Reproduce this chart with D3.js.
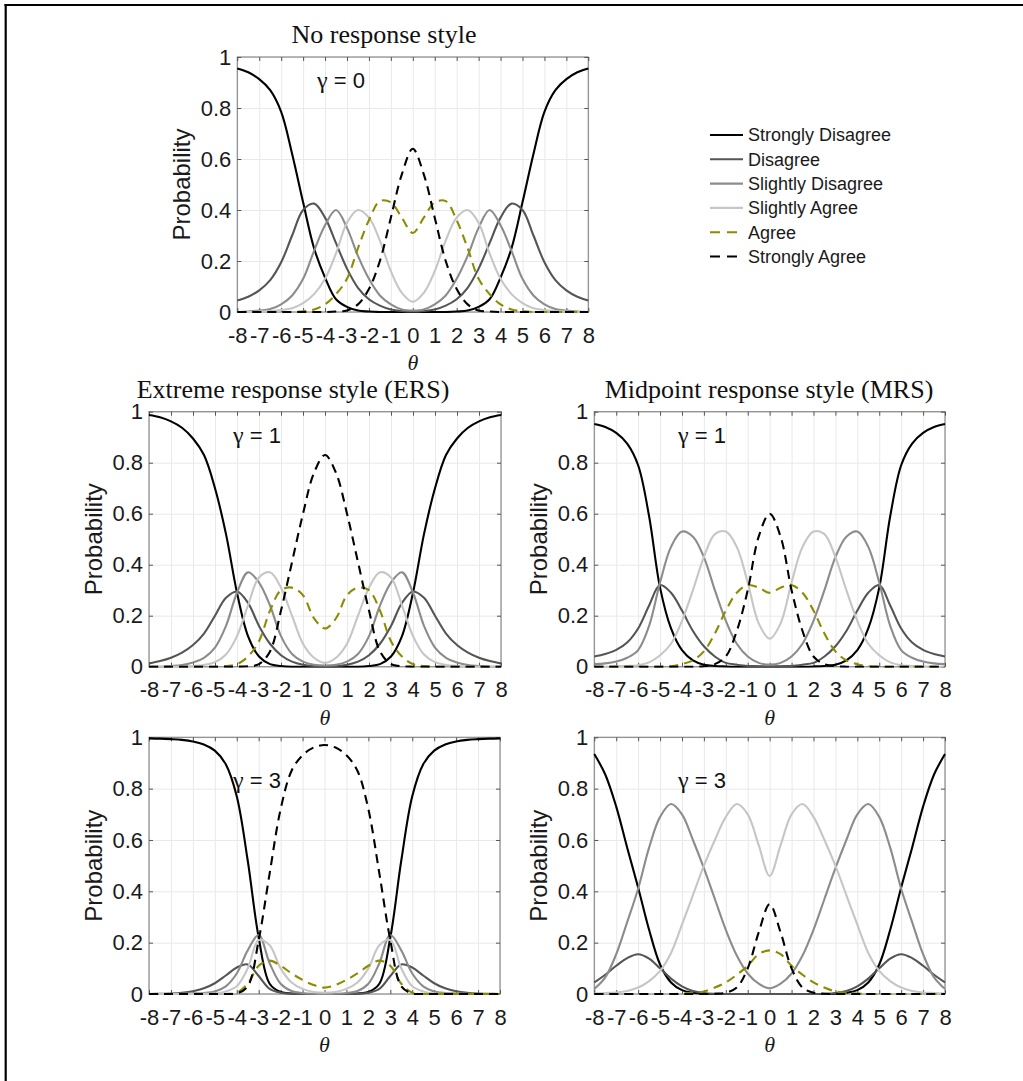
<!DOCTYPE html>
<html>
<head>
<meta charset="utf-8">
<script src="https://cdn.jsdelivr.net/npm/d3@7"></script>
<style>
  body { margin: 0; background: #ffffff; }
  svg { display: block; }
</style>
</head>
<body>
<script>
// theta grid (x values for every curve)
const theta = [-8,-7.5,-7,-6.5,-6,-5.5,-5,-4.5,-4,-3.5,-3,-2.5,-2,-1.5,-1,-0.5,0,
               0.5,1,1.5,2,2.5,3,3.5,4,4.5,5,5.5,6,6.5,7,7.5,8];
const xTicks = [-8,-7,-6,-5,-4,-3,-2,-1,0,1,2,3,4,5,6,7,8];
const yTicks = [0,0.2,0.4,0.6,0.8,1];
const categories = ["Strongly Disagree","Disagree","Slightly Disagree","Slightly Agree","Agree","Strongly Agree"];

// no response style, gamma = 0
const none_sd  = [.955,.94,.913,.87,.785,.62,.43,.25,.135,.05,.02,.006,.002,0,0,0,0,
                  0,0,0,.002,.006,.02,.05,.135,.25,.43,.62,.785,.87,.913,.94,.955];
const none_d   = [.045,.06,.085,.125,.195,.30,.40,.425,.37,.27,.17,.095,.05,.025,.01,.004,.002,
                  .004,.01,.025,.05,.095,.17,.27,.37,.425,.40,.30,.195,.125,.085,.06,.045];
const none_sld = [0,.002,.006,.012,.03,.065,.13,.24,.34,.40,.33,.22,.13,.065,.03,.01,.006,
                  .01,.03,.065,.13,.22,.33,.40,.34,.24,.13,.065,.03,.012,.006,.002,0];
const none_sla = [0,0,.002,.004,.008,.015,.035,.07,.13,.23,.35,.40,.37,.28,.16,.075,.04,
                  .075,.16,.28,.37,.40,.35,.23,.13,.07,.035,.015,.008,.004,.002,0,0];
const none_a   = [0,0,0,0,0,0,.003,.01,.03,.07,.13,.25,.36,.435,.43,.37,.31,
                  .37,.43,.435,.36,.25,.13,.07,.03,.01,.003,0,0,0,0,0,0];
const none_sa  = [0,0,0,0,0,0,0,0,0,.002,.006,.03,.09,.20,.37,.54,.64,
                  .54,.37,.20,.09,.03,.006,.002,0,0,0,0,0,0,0,0,0];

// ERS, gamma = 1
const ers1_sd  = [.987,.978,.962,.937,.895,.83,.70,.52,.29,.12,.04,.01,.003,0,0,0,0,
                  0,0,0,.003,.01,.04,.12,.29,.52,.70,.83,.895,.937,.962,.978,.987];
const ers1_d   = [.013,.022,.035,.055,.085,.13,.20,.27,.295,.25,.16,.09,.045,.02,.008,.003,.002,
                  .003,.008,.02,.045,.09,.16,.25,.295,.27,.20,.13,.085,.055,.035,.022,.013];
const ers1_sld = [0,0,.003,.007,.016,.035,.075,.16,.29,.37,.33,.24,.12,.05,.02,.008,.005,
                  .008,.02,.05,.12,.24,.33,.37,.29,.16,.075,.035,.016,.007,.003,0,0];
const ers1_sla = [0,0,0,.001,.003,.007,.018,.048,.12,.24,.35,.37,.31,.20,.09,.035,.015,
                  .035,.09,.20,.31,.37,.35,.24,.12,.048,.018,.007,.003,.001,0,0,0];
const ers1_a   = [0,0,0,0,0,0,0,.003,.01,.04,.10,.22,.30,.31,.28,.19,.15,
                  .19,.28,.31,.30,.22,.10,.04,.01,.003,0,0,0,0,0,0,0];
const ers1_sa  = [0,0,0,0,0,0,0,0,0,.002,.01,.06,.22,.41,.60,.76,.83,
                  .76,.60,.41,.22,.06,.01,.002,0,0,0,0,0,0,0,0,0];

// MRS, gamma = 1
const mrs1_sd  = [.952,.94,.917,.875,.79,.59,.31,.15,.065,.025,.008,.003,.001,0,0,0,0,
                  0,0,0,.001,.003,.008,.025,.065,.15,.31,.59,.79,.875,.917,.94,.952];
const mrs1_d   = [.04,.05,.066,.095,.15,.24,.32,.29,.22,.14,.08,.04,.015,.008,.003,.002,.001,
                  .002,.003,.008,.015,.04,.08,.14,.22,.29,.32,.24,.15,.095,.066,.05,.04];
const mrs1_sld = [.01,.013,.02,.035,.065,.16,.33,.47,.53,.51,.43,.30,.18,.09,.04,.015,.008,
                  .015,.04,.09,.18,.30,.43,.51,.53,.47,.33,.16,.065,.035,.02,.013,.01];
const mrs1_sla = [0,0,.002,.003,.006,.017,.045,.09,.18,.30,.43,.52,.53,.47,.33,.17,.11,
                  .17,.33,.47,.53,.52,.43,.30,.18,.09,.045,.017,.006,.003,.002,0,0];
const mrs1_a   = [0,0,0,0,0,0,0,.002,.01,.025,.06,.13,.22,.29,.32,.31,.29,
                  .31,.32,.29,.22,.13,.06,.025,.01,.002,0,0,0,0,0,0,0];
const mrs1_sa  = [0,0,0,0,0,0,0,0,0,0,.002,.01,.04,.14,.30,.51,.60,
                  .51,.30,.14,.04,.01,.002,0,0,0,0,0,0,0,0,0,0];

// ERS, gamma = 3
const ers3_sd  = [.996,.995,.993,.99,.984,.972,.948,.895,.77,.52,.22,.04,.008,.002,0,0,0,
                  0,0,.002,.008,.04,.22,.52,.77,.895,.948,.972,.984,.99,.993,.995,.996];
const ers3_d   = [0,.001,.002,.005,.011,.022,.042,.072,.103,.115,.07,.02,.005,.001,0,0,0,
                  0,0,.001,.005,.02,.07,.115,.103,.072,.042,.022,.011,.005,.002,.001,0];
const ers3_sld = [0,0,0,.001,.002,.004,.01,.03,.08,.17,.23,.12,.04,.012,.004,.001,0,
                  .001,.004,.012,.04,.12,.23,.17,.08,.03,.01,.004,.002,.001,0,0,0];
const ers3_sla = [0,0,0,0,0,.001,.002,.01,.03,.10,.21,.19,.10,.045,.02,.008,.005,
                  .008,.02,.045,.10,.19,.21,.10,.03,.01,.002,.001,0,0,0,0,0];
const ers3_a   = [0,0,0,0,0,0,0,0,.005,.04,.11,.13,.11,.08,.055,.035,.025,
                  .035,.055,.08,.11,.13,.11,.04,.005,0,0,0,0,0,0,0,0];
const ers3_sa  = [0,0,0,0,0,0,0,0,.002,.03,.21,.47,.72,.87,.93,.96,.97,
                  .96,.93,.87,.72,.47,.21,.03,.002,0,0,0,0,0,0,0,0];

// MRS, gamma = 3
const mrs3_sd  = [.935,.855,.73,.57,.415,.25,.115,.045,.015,.005,.001,0,0,0,0,0,0,
                  0,0,0,0,0,.001,.005,.015,.045,.115,.25,.415,.57,.73,.855,.935];
const mrs3_d   = [.045,.075,.11,.14,.155,.138,.10,.06,.03,.012,.004,.001,0,0,0,0,0,
                  0,0,0,0,.001,.004,.012,.03,.06,.10,.138,.155,.14,.11,.075,.045];
const mrs3_sld = [.02,.065,.155,.28,.41,.57,.69,.74,.70,.60,.49,.37,.25,.15,.08,.04,.022,
                  .04,.08,.15,.25,.37,.49,.60,.70,.74,.69,.57,.41,.28,.155,.065,.02];
const mrs3_sla = [.002,.004,.006,.012,.025,.05,.09,.16,.27,.385,.50,.60,.69,.74,.70,.58,.46,
                  .58,.70,.74,.69,.60,.50,.385,.27,.16,.09,.05,.025,.012,.006,.004,.002];
const mrs3_a   = [0,0,0,0,0,0,0,0,.002,.005,.01,.025,.045,.075,.11,.155,.17,
                  .155,.11,.075,.045,.025,.01,.005,.002,0,0,0,0,0,0,0,0];
const mrs3_sa  = [0,0,0,0,0,0,0,0,0,0,0,.001,.005,.025,.10,.24,.35,
                  .24,.10,.025,.005,.001,0,0,0,0,0,0,0,0,0,0,0];

// line look per category (same order as categories)
const lineColor = ["#000000","#555555","#8c8c8c","#c6c6c6","#8c8c00","#000000"];
const lineDash  = [null, null, null, null, "9,6", "9,6"];

const SANS = "'Liberation Sans', Arial, Helvetica, sans-serif";
const SERIF = "'Liberation Serif', 'Times New Roman', serif";

const W = 1023, H = 1081;

const svg = d3.select("body").append("svg")
  .attr("width", W)
  .attr("height", H)
  .style("background-color", "#ffffff");

// outer frame (only top and left edges show in the picture)
svg.append("line").attr("x1", 4.5).attr("x2", W).attr("y1", 5).attr("y2", 5)
  .attr("stroke", "#000").attr("stroke-width", 2.2);
svg.append("line").attr("x1", 5.7).attr("x2", 5.7).attr("y1", 4).attr("y2", H)
  .attr("stroke", "#000").attr("stroke-width", 2.2);

// panels: left, right, top, bottom in px
const panels = [
  { x0: 237.3, x1: 588.3, y0: 57, y1: 312, title: "No response style", tx: 384,
    gamma: "0", gx: 317, gy: 88,
    series: [none_sd, none_d, none_sld, none_sla, none_a, none_sa] },
  { x0: 149, x1: 501, y0: 411.7, y1: 666.7, title: "Extreme response style (ERS)", tx: 293,
    gamma: "1", gx: 233, gy: 443,
    series: [ers1_sd, ers1_d, ers1_sld, ers1_sla, ers1_a, ers1_sa] },
  { x0: 594.3, x1: 945, y0: 411.7, y1: 666.7, title: "Midpoint response style (MRS)", tx: 769,
    gamma: "1", gx: 678, gy: 443,
    series: [mrs1_sd, mrs1_d, mrs1_sld, mrs1_sla, mrs1_a, mrs1_sa] },
  { x0: 149, x1: 500, y0: 737.3, y1: 994, title: null,
    gamma: "3", gx: 233, gy: 788,
    series: [ers3_sd, ers3_d, ers3_sld, ers3_sla, ers3_a, ers3_sa] },
  { x0: 594.3, x1: 945, y0: 737.3, y1: 994, title: null,
    gamma: "3", gx: 678, gy: 788,
    series: [mrs3_sd, mrs3_d, mrs3_sld, mrs3_sla, mrs3_a, mrs3_sa] }
];

panels.forEach((p, pi) => {
  const x = d3.scaleLinear().domain([-8, 8]).range([p.x0, p.x1]);
  const y = d3.scaleLinear().domain([0, 1]).range([p.y1, p.y0]);
  const w = p.x1 - p.x0, h = p.y1 - p.y0;
  const g = svg.append("g");

  // grid
  g.append("g")
    .attr("transform", `translate(0,${p.y1})`)
    .call(d3.axisBottom(x).tickValues(xTicks).tickSize(-h).tickFormat(""))
    .call(a => a.select(".domain").remove())
    .call(a => a.selectAll("line").attr("stroke", "#e9e9e9").attr("stroke-width", 1));
  g.append("g")
    .attr("transform", `translate(${p.x0},0)`)
    .call(d3.axisLeft(y).tickValues(yTicks).tickSize(-w).tickFormat(""))
    .call(a => a.select(".domain").remove())
    .call(a => a.selectAll("line").attr("stroke", "#e9e9e9").attr("stroke-width", 1));

  // box
  g.append("rect")
    .attr("x", p.x0).attr("y", p.y0).attr("width", w).attr("height", h)
    .attr("fill", "none").attr("stroke", "#8a8a8a").attr("stroke-width", 1.2);

  // ticks pointing inward on all four sides; plain hyphen for negatives
  const bottom = g.append("g")
    .attr("transform", `translate(0,${p.y1})`)
    .call(d3.axisBottom(x).tickValues(xTicks).tickSizeInner(-4).tickSizeOuter(0).tickPadding(15)
      .tickFormat(d => String(d)));
  const top = g.append("g")
    .attr("transform", `translate(0,${p.y0})`)
    .call(d3.axisTop(x).tickValues(xTicks).tickSizeInner(-4).tickSizeOuter(0).tickFormat(""));
  const left = g.append("g")
    .attr("transform", `translate(${p.x0},0)`)
    .call(d3.axisLeft(y).tickValues(yTicks).tickSizeInner(-4).tickSizeOuter(0).tickPadding(6)
      .tickFormat(d => String(d)));
  const right = g.append("g")
    .attr("transform", `translate(${p.x1},0)`)
    .call(d3.axisRight(y).tickValues(yTicks).tickSizeInner(-4).tickSizeOuter(0).tickFormat(""));
  [bottom, top, left, right].forEach(a => {
    a.select(".domain").remove();
    a.selectAll("line").attr("stroke", "#555");
    a.selectAll("text")
      .attr("fill", "#1a1a1a")
      .style("font-family", SANS)
      .style("font-size", "22px");
  });

  // curves
  const clipId = "clip" + pi;
  svg.append("clipPath").attr("id", clipId)
    .append("rect").attr("x", p.x0 - 2).attr("y", p.y0 - 2).attr("width", w + 4).attr("height", h + 3);

  const line = d3.line()
    .x((d, i) => x(theta[i]))
    .y(d => y(d))
    .curve(d3.curveCatmullRom.alpha(0.5));

  const lines = g.append("g").attr("clip-path", `url(#${clipId})`);
  p.series.forEach((vals, k) => {
    if (vals.length !== theta.length) console.error("length", pi, k, vals.length);
    lines.append("path")
      .attr("d", line(vals))
      .attr("fill", "none")
      .attr("stroke", lineColor[k])
      .attr("stroke-width", 2.1)
      .attr("stroke-dasharray", lineDash[k])
      .attr("stroke-linejoin", "round");
  });

  // y label
  g.append("text")
    .attr("transform", `translate(${p.x0 - 47},${(p.y0 + p.y1) / 2}) rotate(-90)`)
    .attr("text-anchor", "middle")
    .attr("fill", "#1a1a1a")
    .style("font-family", SANS)
    .style("font-size", "24px")
    .text("Probability");

  // x label
  g.append("text")
    .attr("x", (p.x0 + p.x1) / 2)
    .attr("y", p.y1 + 58)
    .attr("text-anchor", "middle")
    .attr("fill", "#1a1a1a")
    .style("font-family", SERIF)
    .style("font-style", "italic")
    .style("font-size", "22px")
    .text("θ");

  // title
  if (p.title) {
    g.append("text")
      .attr("x", p.tx)
      .attr("y", p.y0 - 14)
      .attr("text-anchor", "middle")
      .attr("fill", "#111")
      .style("font-family", SERIF)
      .style("font-size", "26px")
      .text(p.title);
  }

  // gamma note
  const gt = g.append("text")
    .attr("x", p.gx)
    .attr("y", p.gy)
    .attr("fill", "#111")
    .style("font-family", SANS)
    .style("font-size", "22px");
  gt.append("tspan").style("font-family", SERIF).style("font-size", "24px").text("γ");
  gt.append("tspan").text(" = " + p.gamma);
});

// legend
const legend = svg.append("g");
categories.forEach((c, k) => {
  const ly = 135 + k * 24.3;
  legend.append("line")
    .attr("x1", 710).attr("x2", k >= 4 ? 738 : 743)
    .attr("y1", ly).attr("y2", ly)
    .attr("stroke", lineColor[k])
    .attr("stroke-width", 2.1)
    .attr("stroke-dasharray", k >= 4 ? "10,7" : null);
  legend.append("text")
    .attr("x", 748)
    .attr("y", ly)
    .attr("dy", "0.35em")
    .attr("fill", "#1a1a1a")
    .style("font-family", SANS)
    .style("font-size", "18px")
    .text(c);
});
</script>
</body>
</html>
